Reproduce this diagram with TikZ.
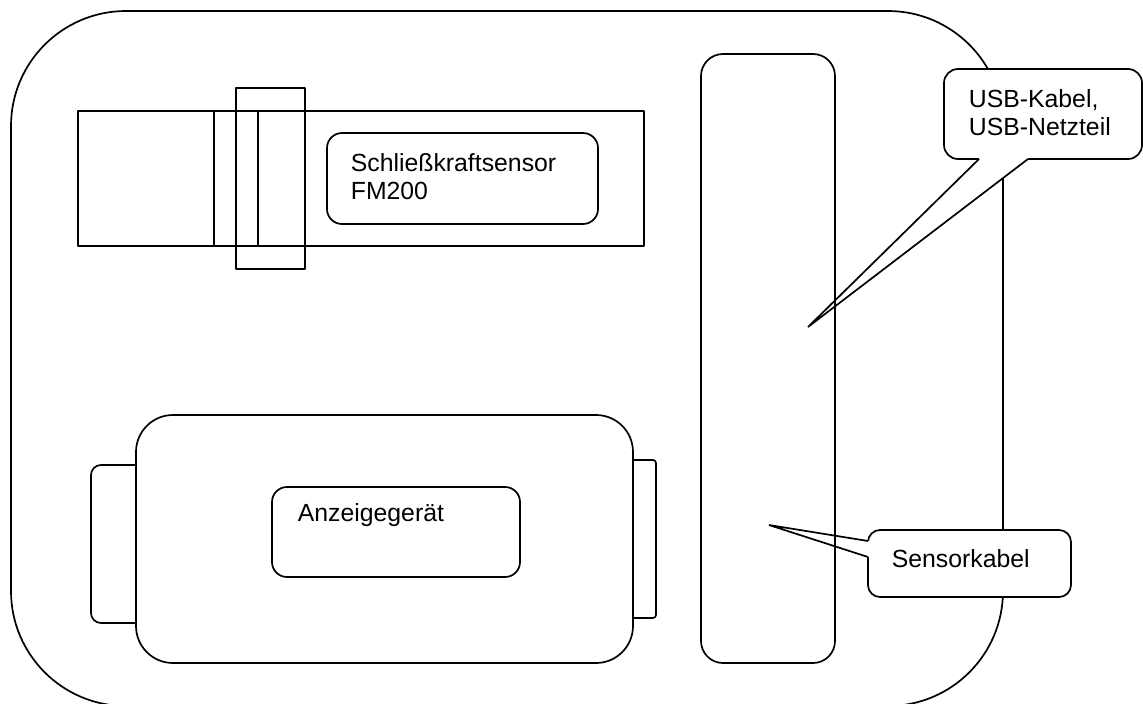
\documentclass[tikz,border=0pt]{standalone}
\usepackage{fontspec}
\setmainfont{Liberation Sans}
\begin{document}
\begin{tikzpicture}[x=1pt,y=-1pt,
  line width=1.7pt,
  box/.style={draw=black,rectangle,inner sep=0pt,line join=round},
  lbl/.style={anchor=base west,inner sep=0pt,font=\fontsize{24.8}{28}\selectfont},
]
\useasboundingbox (0,0) rectangle (1143,704);
\fill[white] (0,0) rectangle (1143,704);

% outer case
\node[box,rounded corners=115pt,minimum width=992pt,minimum height=695pt] (case) at (507,358.5) {};

% sensor FM200
\node[box,minimum width=566pt,minimum height=135pt] (sbody) at (361,178.5) {};
\coordinate (l1t) at (214,111); \coordinate (l1b) at (214,246);
\coordinate (l2t) at (258,111); \coordinate (l2b) at (258,246);
\draw (l1t) -- (l1b);
\draw (l2t) -- (l2b);
\node[box,minimum width=69pt,minimum height=181pt] (clamp) at (270.5,178.5) {};
\node[box,rounded corners=15pt,minimum width=271pt,minimum height=91pt] (slabel) at (462.5,178.5) {};
\node[lbl] (st1) at (350,171.7) {Schließkraftsensor};
\node[lbl] (st2) at (350,199.3) {FM200};

% display device
\node[box,rounded corners=10pt,minimum width=65pt,minimum height=158pt] (ltab) at (123.5,544) {};
\node[box,rounded corners=3pt,minimum width=40pt,minimum height=158pt] (rtab) at (636,539) {};
\node[box,fill=white,rounded corners=37pt,minimum width=497pt,minimum height=248pt] (disp) at (384.5,539) {};
\node[box,rounded corners=15pt,minimum width=248pt,minimum height=90pt] (dlabel) at (396,532) {};
\node[lbl] (dt) at (297,521.7) {Anzeigegerät};

% callout USB
\node[box,fill=white,rounded corners=14pt,minimum width=198pt,minimum height=90pt] (usb) at (1043,114) {};
\coordinate (ub1) at (979,159); \coordinate (ub2) at (1028,159);
\coordinate (ub1i) at (979,156); \coordinate (ub2i) at (1028,156);
\coordinate (utip) at (808,327);
\fill[white] (ub1i) -- (ub1) -- (utip) -- (ub2) -- (ub2i) -- cycle;
\draw[line join=miter] (ub1) -- (utip) -- (ub2);
\node[lbl] (ut1) at (968,107.7) {USB-Kabel,};
\node[lbl] (ut2) at (968,135.5) {USB-Netzteil};

% callout Sensorkabel
\node[box,fill=white,rounded corners=12pt,minimum width=203pt,minimum height=67pt] (sk) at (969.5,563.5) {};
\coordinate (sb1) at (868,541); \coordinate (sb2) at (868,557);
\coordinate (sb1i) at (871,541); \coordinate (sb2i) at (871,557);
\coordinate (stip) at (769,525);
\fill[white] (sb1i) -- (sb1) -- (stip) -- (sb2) -- (sb2i) -- cycle;
\draw[line join=miter] (sb1) -- (stip) -- (sb2);
\node[lbl] (skt) at (891,567) {Sensorkabel};

% cable compartment
\node[box,rounded corners=22pt,minimum width=134pt,minimum height=609pt] (cable) at (768,358.5) {};
\end{tikzpicture}
\end{document}
